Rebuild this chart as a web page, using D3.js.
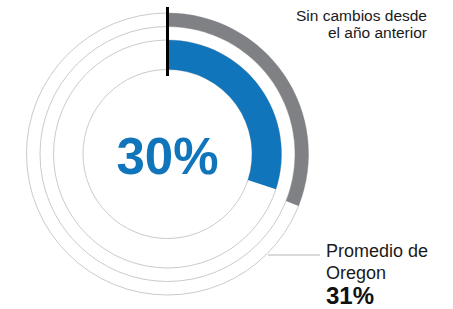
<!DOCTYPE html>
<html>
<head>
<meta charset="utf-8">
<script src="https://cdn.jsdelivr.net/npm/d3@7"></script>
<style>
html,body{margin:0;padding:0;background:#fff;}
svg{display:block;font-family:"Liberation Sans",Arial,Helvetica,sans-serif;}
</style>
</head>
<body>
<svg id="chart" width="453" height="309"></svg>
<script>
// Data
const categories = ["Escuela", "Promedio de Oregon"];
const schoolValue = [30];
const oregonValue = [31];
const noteLines = ["Sin cambios desde", "el año anterior"];
const avgLabelLines = ["Promedio de", "Oregon"];
const guideRings = [141, 127.5, 114, 84.5];

const svg = d3.select("#chart");
const cx = 167.5, cy = 154;
const g = svg.append("g").attr("transform", `translate(${cx},${cy})`);

const angle = d3.scaleLinear().domain([0, 100]).range([0, 2 * Math.PI]);

// guide circles
g.selectAll("circle.guide").data(guideRings).join("circle")
  .attr("class", "guide")
  .attr("r", d => d)
  .attr("fill", "none")
  .attr("stroke", "#cbcbcb")
  .attr("stroke-width", 1);

// Oregon average arc (gray)
const arcOuter = d3.arc().innerRadius(127.5).outerRadius(141).startAngle(0);
g.selectAll("path.avg").data(oregonValue).join("path")
  .attr("class", "avg")
  .attr("d", d => arcOuter.endAngle(angle(d))())
  .attr("fill", "#808184");

// School value arc (blue)
const arcInner = d3.arc().innerRadius(84.5).outerRadius(114).startAngle(0);
g.selectAll("path.val").data(schoolValue).join("path")
  .attr("class", "val")
  .attr("d", d => arcInner.endAngle(angle(d))())
  .attr("fill", "#1175bb");

// start tick
g.append("line")
  .attr("x1", 0).attr("x2", 0)
  .attr("y1", -147).attr("y2", -78)
  .attr("stroke", "#000").attr("stroke-width", 3);

// center label
g.selectAll("text.center").data(schoolValue).join("text")
  .attr("class", "center")
  .attr("x", 0).attr("y", 20)
  .attr("text-anchor", "middle")
  .attr("font-size", 51).attr("font-weight", "bold")
  .attr("fill", "#1175bb")
  .text(d => d + "%");

// note top right
svg.append("text")
  .attr("text-anchor", "end")
  .attr("font-size", 15.5)
  .attr("fill", "#1a1a1a")
  .selectAll("tspan").data(noteLines).join("tspan")
  .attr("x", 427)
  .attr("y", (d, i) => 21 + i * 16.5)
  .text(d => d);

// leader line
svg.append("line")
  .attr("x1", 268).attr("x2", 320)
  .attr("y1", 255).attr("y2", 255)
  .attr("stroke", "#b5b5b5").attr("stroke-width", 1.2);

// average label
svg.append("text")
  .attr("font-size", 18)
  .attr("fill", "#1a1a1a")
  .selectAll("tspan").data(avgLabelLines).join("tspan")
  .attr("x", 326)
  .attr("y", (d, i) => 257 + i * 22)
  .text(d => d);

svg.selectAll("text.avgval").data(oregonValue).join("text")
  .attr("class", "avgval")
  .attr("x", 326).attr("y", 304)
  .attr("font-size", 24).attr("font-weight", "bold")
  .attr("fill", "#111")
  .text(d => d + "%");
</script>
</body>
</html>
